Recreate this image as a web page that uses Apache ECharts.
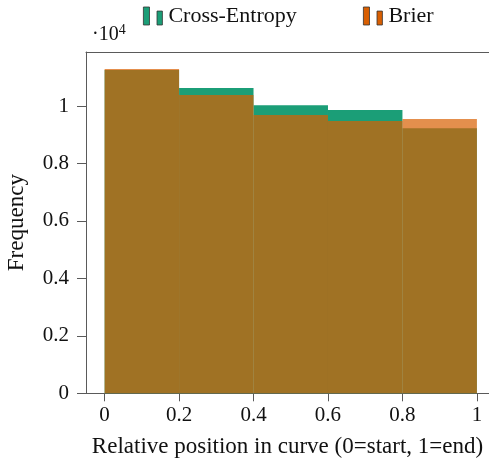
<!DOCTYPE html>
<html>
<head>
<meta charset="utf-8">
<script src="https://cdn.jsdelivr.net/npm/echarts@6/dist/echarts.min.js"></script>
<style>
  html, body { margin: 0; padding: 0; background: #fff; }
  #chart { width: 489px; height: 460px; }
</style>
</head>
<body>
<div id="chart"></div>
<script>
// Histogram bins over the relative position in a curve
const binEdges = [0, 0.2, 0.4, 0.6, 0.8, 1];
// Counts per bin for each loss
const crossEntropy = [11250, 10630, 10030, 9860, 9230];
const brier = [11290, 10380, 9690, 9480, 9550];
// Tick positions
const xTicks = [0, 0.2, 0.4, 0.6, 0.8, 1];
const yTicks = [0, 2000, 4000, 6000, 8000, 10000];

const FONT = 'Liberation Serif';
const AXIS = '#5a5a5a';
const INK = '#111';

function toBins(counts) {
  return counts.map((c, i) => [binEdges[i], binEdges[i + 1], c]);
}

function renderBin(params, api) {
  const p0 = api.coord([api.value(0), api.value(2)]);
  const p1 = api.coord([api.value(1), 0]);
  return {
    type: 'rect',
    shape: { x: p0[0], y: p0[1], width: p1[0] - p0[0], height: p1[1] - p0[1] },
    style: api.style()
  };
}

const legendIcon = 'path://M0,0h6v17.7h-6z M13.4,4h5.3v13.7h-5.3z';

const chart = echarts.init(document.getElementById('chart'), null, { renderer: 'canvas' });
chart.setOption({
  animation: false,
  backgroundColor: '#fff',
  textStyle: { fontFamily: FONT },
  grid: { left: 86, top: 52, right: 0, height: 341.3, outerBoundsMode: 'none', containLabel: false },
  legend: [
    {
      left: 143, top: 5, padding: 0, itemWidth: 19, itemHeight: 18, itemGap: 0,
      data: [{ name: 'Cross-Entropy', icon: legendIcon,
        itemStyle: { color: '#1b9e77', opacity: 1, borderColor: '#333', borderWidth: 0.8 } }],
      textStyle: { fontFamily: FONT, fontSize: 22, color: INK, padding: [0, 0, 0, 1] },
      selectedMode: false
    },
    {
      left: 363, top: 5, padding: 0, itemWidth: 19, itemHeight: 18, itemGap: 0,
      data: [{ name: 'Brier', icon: legendIcon,
        itemStyle: { color: '#d95f02', opacity: 1, borderColor: '#333', borderWidth: 0.8 } }],
      textStyle: { fontFamily: FONT, fontSize: 22, color: INK, padding: [0, 0, 0, 1] },
      selectedMode: false
    }
  ],
  graphic: [
    {
      type: 'text', left: 92, top: 23,
      style: {
        text: '·10{s|4}',
        font: '20px "' + FONT + '"',
        fill: INK,
        rich: { s: { fontSize: 14, fontFamily: FONT, verticalAlign: 'top', padding: [0, 0, 10, 0] } }
      }
    }
  ],
  xAxis: [
    {
      type: 'value', min: -0.05, max: 1.0325,
      name: 'Relative position in curve (0=start, 1=end)',
      nameLocation: 'middle', nameGap: 42,
      nameTextStyle: { fontFamily: FONT, fontSize: 23, color: INK },
      axisLine: { show: true, onZero: false, lineStyle: { color: AXIS, width: 1 } },
      axisTick: { show: true, inside: false, length: 8, customValues: xTicks, lineStyle: { color: AXIS } },
      axisLabel: {
        customValues: xTicks, margin: 12, fontFamily: FONT, fontSize: 21, color: INK,
        formatter: v => String(Math.round(v * 10) / 10)
      },
      splitLine: { show: false }
    },
    {
      // top frame line
      type: 'value', position: 'top', min: -0.05, max: 1.0325,
      axisLine: { show: true, onZero: false, lineStyle: { color: AXIS, width: 1 } },
      axisTick: { show: false }, axisLabel: { show: false }, splitLine: { show: false }
    }
  ],
  yAxis: {
    type: 'value', min: 0, max: 11880,
    name: 'Frequency', nameLocation: 'middle', nameGap: 58,
    nameTextStyle: { fontFamily: FONT, fontSize: 23, color: INK },
    axisLine: { show: true, onZero: false, lineStyle: { color: AXIS, width: 1 } },
    axisTick: { show: true, inside: false, length: 9, customValues: yTicks, lineStyle: { color: AXIS } },
    axisLabel: {
      customValues: yTicks, margin: 17, fontFamily: FONT, fontSize: 21, color: INK,
      formatter: v => String(Math.round(v / 1e4 * 10) / 10)
    },
    splitLine: { show: false }
  },
  series: [
    {
      name: 'Cross-Entropy', type: 'custom', renderItem: renderBin,
      encode: { x: [0, 1], y: 2 },
      itemStyle: { color: '#1b9e77', opacity: 1 },
      data: toBins(crossEntropy), z: 2
    },
    {
      name: 'Brier', type: 'custom', renderItem: renderBin,
      encode: { x: [0, 1], y: 2 },
      itemStyle: { color: '#d95f02', opacity: 0.7 },
      data: toBins(brier), z: 3
    }
  ]
});
</script>
</body>
</html>
